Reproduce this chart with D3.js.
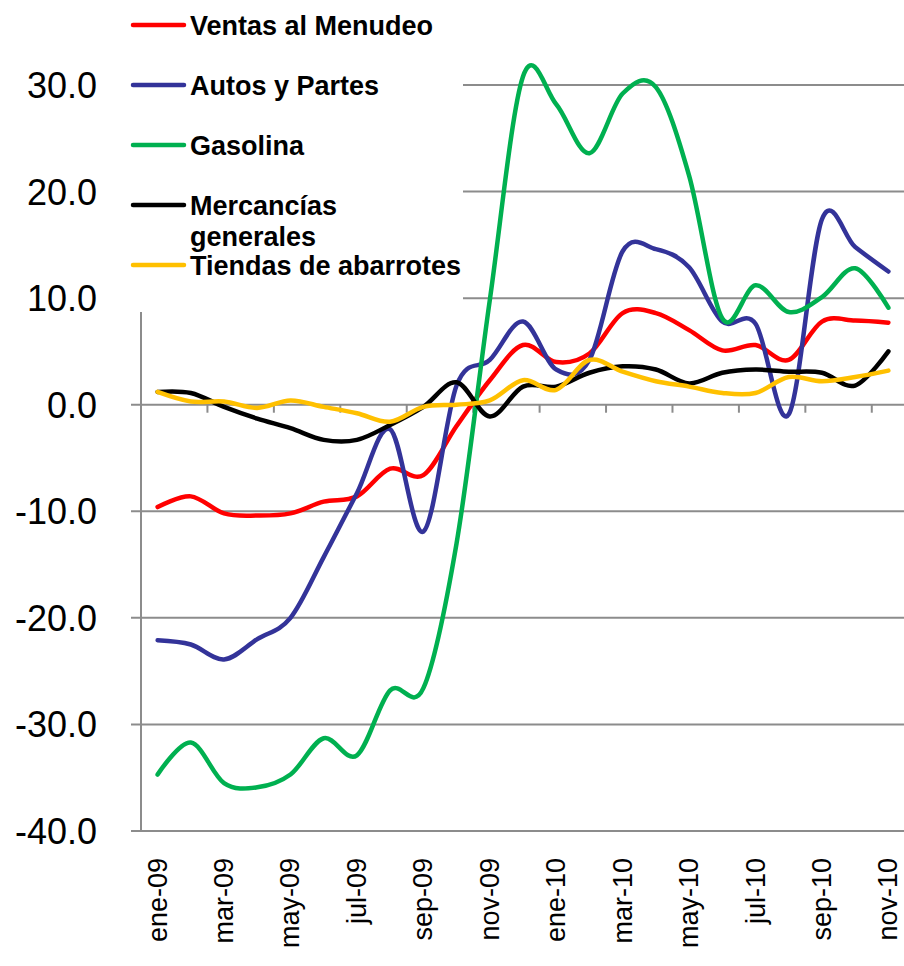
<!DOCTYPE html>
<meta charset="utf-8">
<script src="https://d3js.org/d3.v7.min.js"></script>
<style>
  body { margin: 0; background: #fff; }
  text { font-family: Arial, "Liberation Sans", sans-serif; }
</style>
<div id="my_dataviz"></div>
<script>

// months (every other one gets a label)
var months = ["ene-09","feb-09","mar-09","abr-09","may-09","jun-09","jul-09","ago-09","sep-09","oct-09","nov-09","dic-09",
              "ene-10","feb-10","mar-10","abr-10","may-10","jun-10","jul-10","ago-10","sep-10","oct-10","nov-10"]

var ventas    = [-9.6,-8.6,-10.2,-10.4,-10.2,-9.1,-8.6,-6.0,-6.6,-2.0,2.3,5.6,4.0,4.8,8.6,8.6,7.0,5.1,5.6,4.2,7.8,7.9,7.7]
var autos     = [-22.1,-22.5,-23.9,-22.0,-20.0,-14.3,-8.3,-2.3,-11.9,1.8,4.2,7.8,3.3,4.2,14.4,14.6,12.9,7.8,7.6,-0.9,17.4,14.8,12.5]
var gasolina  = [-34.7,-31.7,-35.5,-35.9,-34.7,-31.3,-32.9,-26.8,-26.6,-13.0,9.8,30.8,28.2,23.6,29.2,29.8,21.5,8.1,11.2,8.7,10.1,12.8,9.1]
var mercancia = [1.2,1.1,-0.2,-1.3,-2.2,-3.3,-3.3,-1.9,-0.2,2.1,-1.1,1.7,1.7,3.0,3.6,3.3,2.0,3.0,3.3,3.1,3.0,1.8,5.0]
var tiendas   = [1.2,0.3,0.3,-0.3,0.4,-0.2,-0.8,-1.6,-0.2,0.0,0.4,2.3,1.4,4.2,3.1,2.2,1.7,1.1,1.1,2.6,2.2,2.6,3.2]

var seriesNames  = ["Ventas al Menudeo","Autos y Partes","Gasolina","Mercancías generales","Tiendas de abarrotes"]
var seriesColors = ["#ff0000","#333399","#00b050","#000000","#ffc000"]
var seriesData   = [ventas, autos, gasolina, mercancia, tiendas]

var yTicks = [-40,-30,-20,-10,0,10,20,30]

var width = 904, height = 966
var plot = {left: 141, right: 905, top: 85, bottom: 831}

var svg = d3.select("#my_dataviz")
  .append("svg")
    .attr("width", width)
    .attr("height", height)

var x = d3.scaleBand()
  .domain(months)
  .range([plot.left, plot.right])

var y = d3.scaleLinear()
  .domain([-40, 30])
  .range([plot.bottom, plot.top])

// gridlines
svg.append("g")
  .selectAll("line")
  .data(yTicks)
  .enter()
  .append("line")
    .attr("x1", plot.left - 10)
    .attr("x2", plot.right)
    .attr("y1", function(d) { return y(d) })
    .attr("y2", function(d) { return y(d) })
    .attr("stroke", "#8c8c8c")
    .attr("stroke-width", 2)

// y axis line
svg.append("line")
  .attr("x1", plot.left).attr("x2", plot.left)
  .attr("y1", plot.top).attr("y2", plot.bottom)
  .attr("stroke", "#8c8c8c")
  .attr("stroke-width", 2)

// x tick marks on the zero line, every 2 months
var tickMonths = months.filter(function(d, i) { return i % 2 == 0 && i > 0 })
svg.append("g")
  .selectAll("line")
  .data(tickMonths)
  .enter()
  .append("line")
    .attr("x1", function(d) { return x(d) })
    .attr("x2", function(d) { return x(d) })
    .attr("y1", y(0))
    .attr("y2", y(0) + 8)
    .attr("stroke", "#8c8c8c")
    .attr("stroke-width", 2)

// y labels (plain hyphen for negatives, like the original)
svg.append("g")
  .selectAll("text")
  .data(yTicks)
  .enter()
  .append("text")
    .attr("x", 97)
    .attr("y", function(d) { return y(d) })
    .attr("dy", "0.36em")
    .style("text-anchor", "end")
    .style("font-size", "36px")
    .text(function(d) { return d.toFixed(1) })

// x labels, rotated
svg.append("g")
  .selectAll("text")
  .data(months.filter(function(d, i) { return i % 2 == 0 }))
  .enter()
  .append("text")
    .attr("transform", function(d) {
      return "translate(" + (x(d) + x.bandwidth() / 2 + 9) + "," + 858 + ") rotate(-90)" })
    .style("text-anchor", "end")
    .style("font-size", "27px")
    .text(function(d) { return d })

// lines
var line = d3.line()
  .x(function(d, i) { return x(months[i]) + x.bandwidth() / 2 })
  .y(function(d) { return y(d) })
  .curve(d3.curveCardinal.tension(0))

svg.append("g")
  .selectAll("path")
  .data(seriesData)
  .enter()
  .append("path")
    .attr("d", function(d) { return line(d) })
    .attr("stroke", function(d, i) { return seriesColors[i] })
    .attr("stroke-width", 4.5)
    .attr("stroke-linecap", "round")
    .attr("stroke-linejoin", "round")
    .style("fill", "none")

// legend box sits on top of the plot, hiding the grid behind it
var legend = svg.append("g")
legend.append("rect")
  .attr("x", 120).attr("y", 0)
  .attr("width", 343).attr("height", 312)
  .attr("fill", "#fff")

var legendY = [25, 85, 145, 205, 265]
seriesNames.forEach(function(name, i) {
  legend.append("line")
    .attr("x1", 133).attr("x2", 184)
    .attr("y1", legendY[i]).attr("y2", legendY[i])
    .attr("stroke", seriesColors[i])
    .attr("stroke-width", 4.5)
    .attr("stroke-linecap", "round")
  var t = legend.append("text")
    .attr("x", 190)
    .attr("y", legendY[i] + 10)
    .style("font-size", "27px")
    .style("font-weight", "bold")
  if (name == "Mercancías generales") {
    t.append("tspan").attr("x", 190).text("Mercancías")
    t.append("tspan").attr("x", 190).attr("dy", 31).text("generales")
  } else {
    t.text(name)
  }
})

</script>
